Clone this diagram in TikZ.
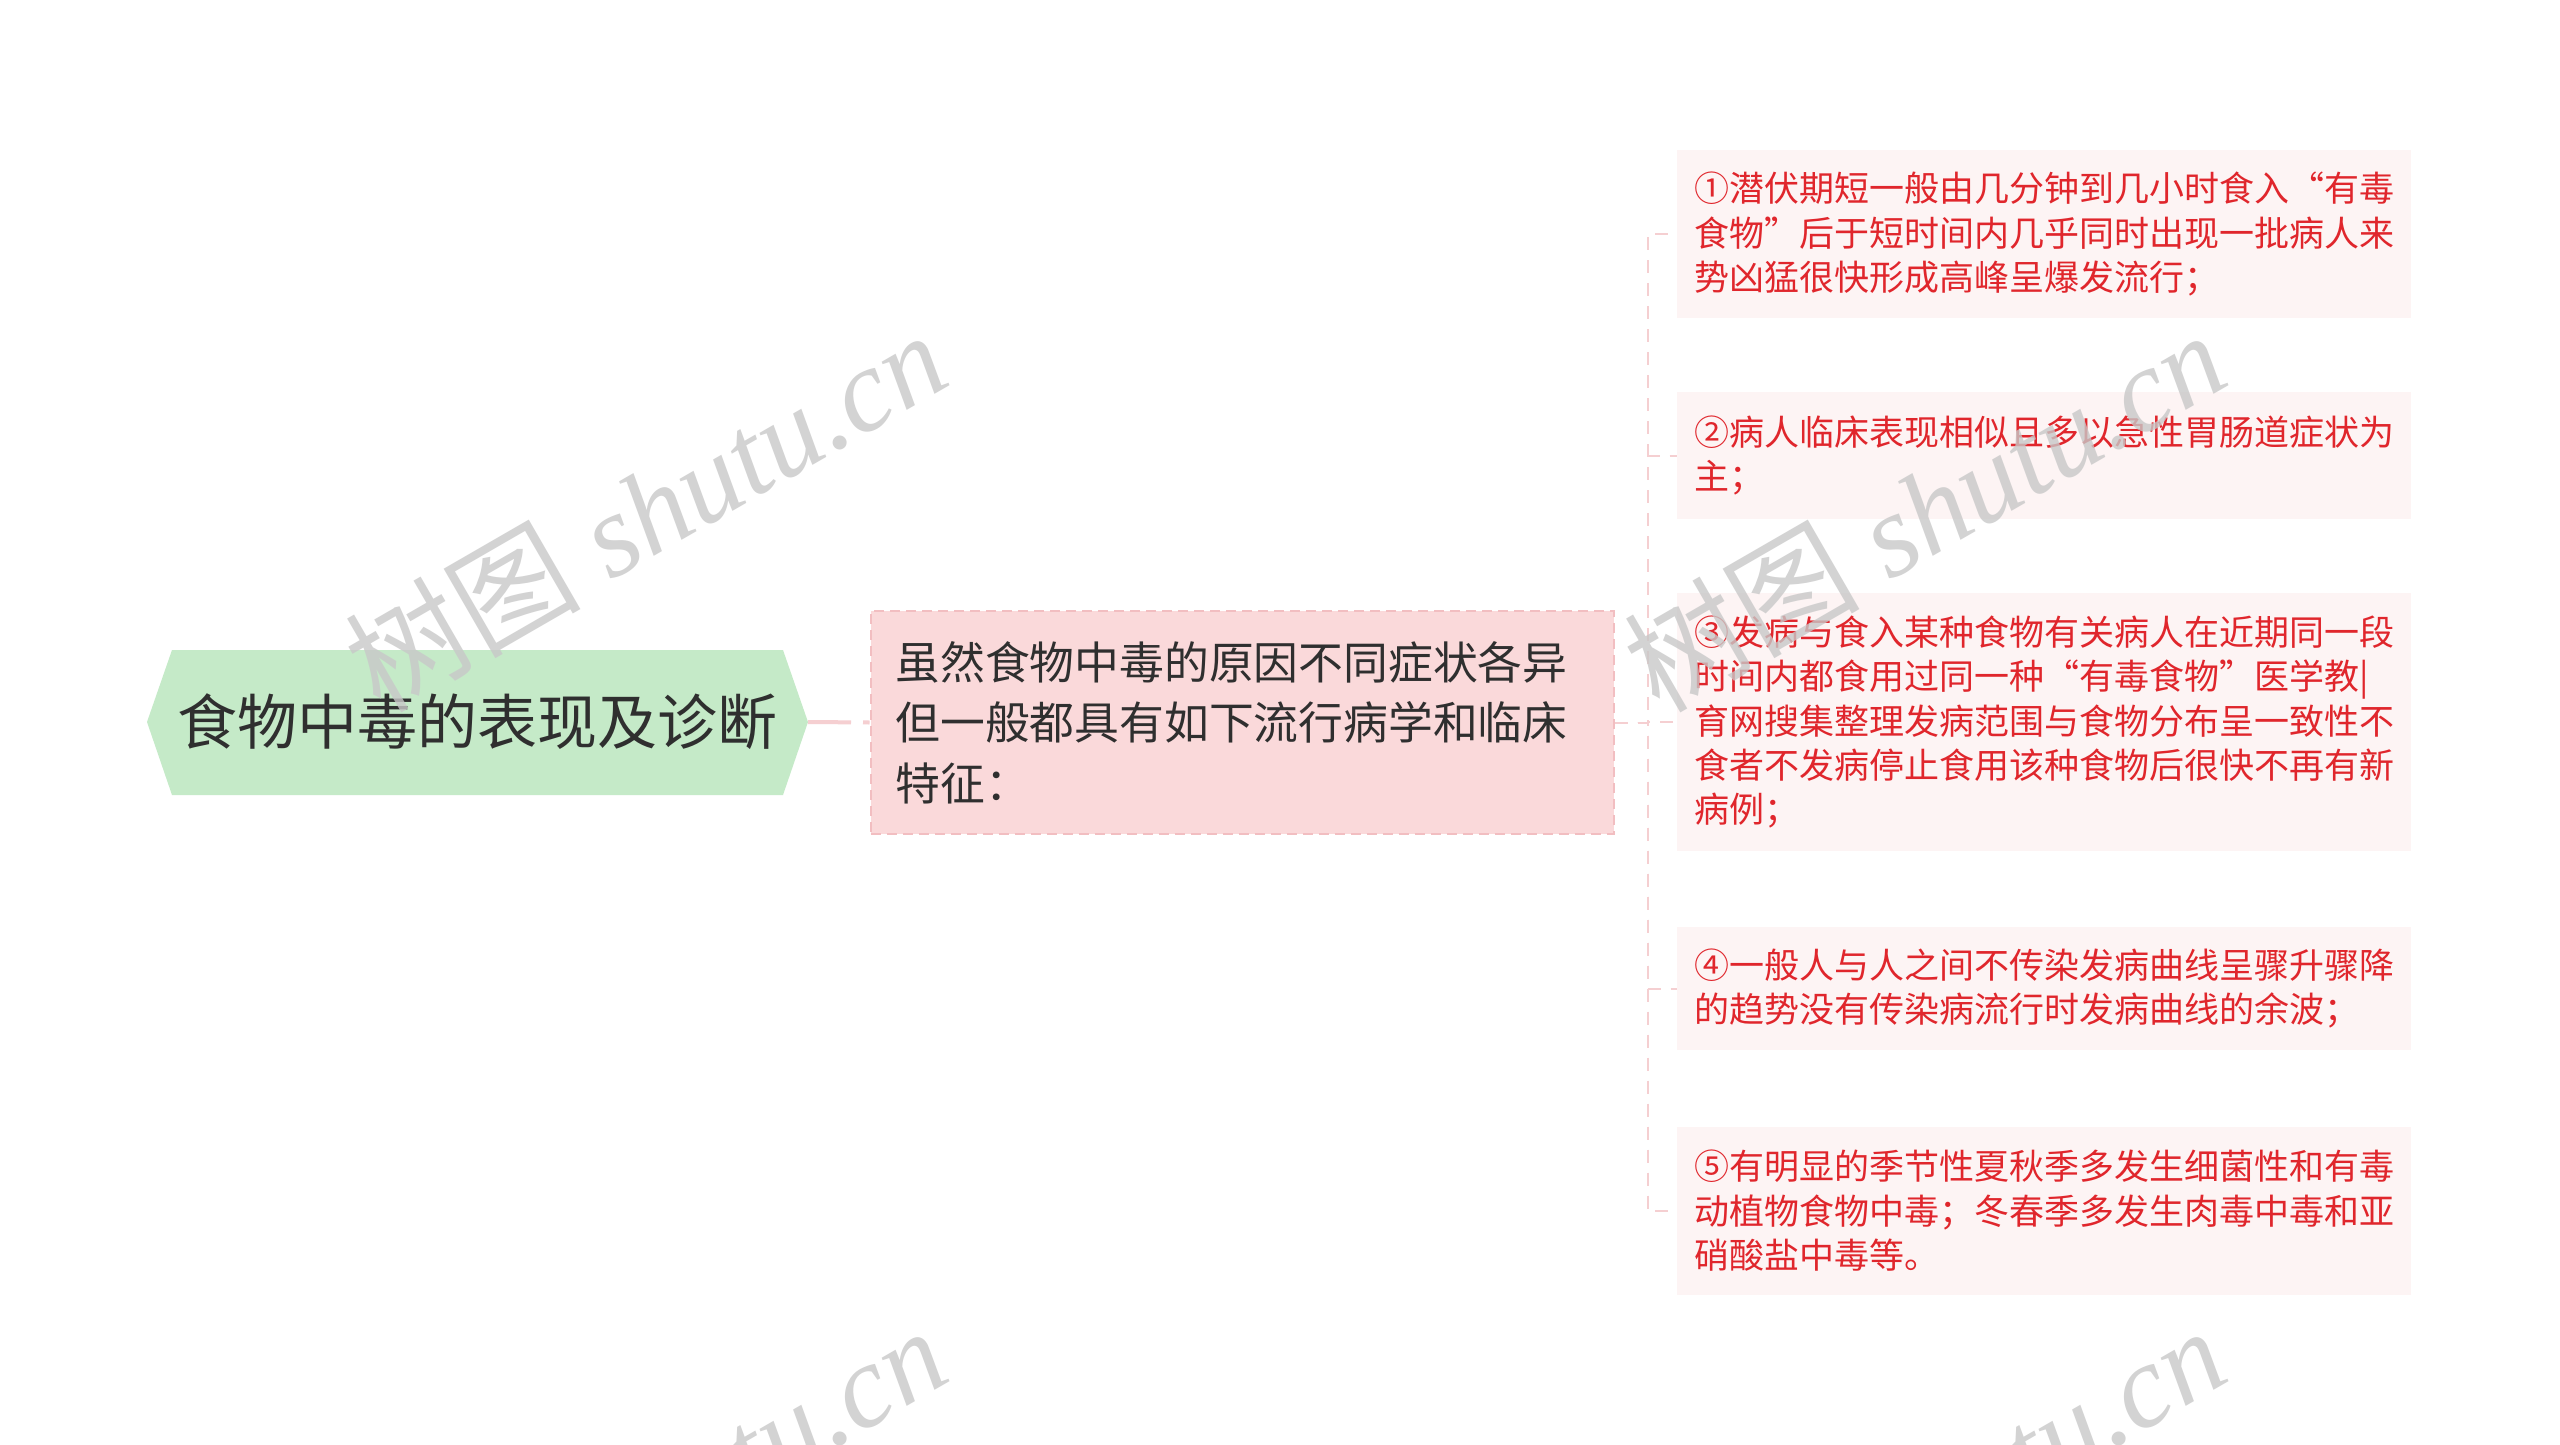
\documentclass[tikz,border=0pt]{standalone}
\usepackage{fontspec}
\setmainfont{Liberation Serif}
\newfontfamily\cjk{Noto Sans CJK SC}
\usetikzlibrary{positioning}
\definecolor{rootfill}{HTML}{C5EAC8}
\definecolor{midfill}{HTML}{FAD9DA}
\definecolor{midline}{HTML}{F2BEC1}
\definecolor{leaffill}{HTML}{FDF4F4}
\definecolor{leaftext}{HTML}{E0262C}
\definecolor{darktext}{HTML}{2F2F2F}
\definecolor{connpink}{HTML}{F5CFD1}
\definecolor{wmgray}{HTML}{C8C8C8}
\tikzset{
  rootlabel/.style={inner sep=0pt, text=darktext, font=\cjk\fontsize{60}{70}\selectfont},
  midbox/.style={fill=midfill, draw=midline, line width=2pt, dash pattern=on 10pt off 6pt,
    minimum width=743pt, minimum height=223pt, inner xsep=25pt, text width=693pt, align=left,
    text=darktext, font=\cjk\fontsize{44.8}{60.4}\selectfont},
  leafbox/.style={fill=leaffill, draw=none, minimum width=734pt, inner xsep=17pt, inner ysep=0pt,
    text width=700pt, align=left, text=leaftext, font=\cjk\fontsize{35}{44.4}\selectfont},
  rootconn/.style={draw=connpink, line width=4pt, dash pattern=on 43pt off 12pt},
  leafconn/.style={draw=connpink, line width=2pt, dash pattern=on 13pt off 10pt},
  watermark/.style={text=wmgray, opacity=0.8, rotate=30, inner sep=0pt, font=\fontsize{118}{118}\selectfont\itshape},
}
\begin{document}
\begin{tikzpicture}[x=1pt,y=-1pt]
\useasboundingbox (0,0) rectangle (2560,1445);
\fill[white] (0,0) rectangle (2560,1445);
% root
\fill[rootfill] (147,722) -- (172,650) -- (783,650) -- (808,722) -- (783,795) -- (172,795) -- cycle;
\coordinate (rootR) at (808,722);
\node[rootlabel] (root) at (477.5,722) {食物中毒的表现及诊断};
% middle
\node[midbox] (mid) at (1242,722.5) {虽然食物中毒的原因不同症状各异\\但一般都具有如下流行病学和临床\\特征：};
% leaves
\node[leafbox, minimum height=168pt] (n1) at (2044,234) {①潜伏期短一般由几分钟到几小时食入“有毒\\食物”后于短时间内几乎同时出现一批病人来\\势凶猛很快形成高峰呈爆发流行；};
\node[leafbox, minimum height=127pt] (n2) at (2044,455.5) {②病人临床表现相似且多以急性胃肠道症状为\\主；};
\node[leafbox, minimum height=258pt] (n3) at (2044,722) {③发病与食入某种食物有关病人在近期同一段\\时间内都食用过同一种“有毒食物”医学教|\\育网搜集整理发病范围与食物分布呈一致性不\\食者不发病停止食用该种食物后很快不再有新\\病例；};
\node[leafbox, minimum height=123pt] (n4) at (2044,988.5) {④一般人与人之间不传染发病曲线呈骤升骤降\\的趋势没有传染病流行时发病曲线的余波；};
\node[leafbox, minimum height=168pt] (n5) at (2044,1211) {⑤有明显的季节性夏秋季多发生细菌性和有毒\\动植物食物中毒；冬春季多发生肉毒中毒和亚\\硝酸盐中毒等。};
% connectors
\draw[rootconn] (rootR) -- (mid.west);
\foreach \n in {n1,n2,n3,n4,n5}{
  \draw[leafconn] (mid.east) -- ++(33,0) |- (\n.west);
}
% watermarks
\begin{scope}
\clip (0,0) rectangle (2560,1445);
\node[watermark] (wm1) at (645,510) {{\cjk 树图} shutu.cn};
\node[watermark] (wm2) at (1924,510) {{\cjk 树图} shutu.cn};
\node[watermark] (wm3) at (645,1506) {{\cjk 树图} shutu.cn};
\node[watermark] (wm4) at (1924,1506) {{\cjk 树图} shutu.cn};
\end{scope}
\end{tikzpicture}
\end{document}
